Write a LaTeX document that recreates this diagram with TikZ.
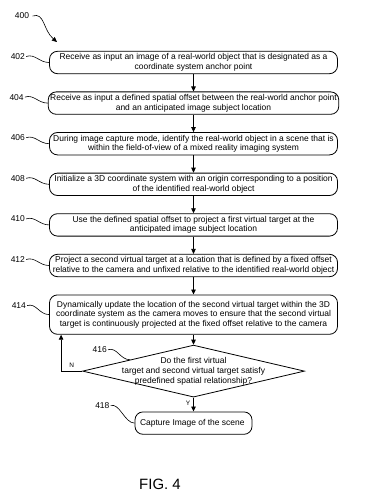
\documentclass[tikz,border=0pt]{standalone}
\usepackage{fontspec}
\setmainfont{Liberation Sans}
\usetikzlibrary{
  arrows.meta,
  calc,
  positioning,
  shapes.geometric
}
\tikzset{
  patent/.style={ font=\fontsize{8.5}{9.8}\selectfont },
  stepbox/.style={
    draw,
    rounded corners=8bp,
    line width=0.8bp,
    minimum width=288bp,
    minimum height=22.4bp,
    align=center,
    inner sep=2bp
  },
  decision/.style={
    draw,
    diamond,
    line width=0.8bp,
    minimum width=222bp,
    minimum height=52bp,
    inner sep=0pt
  },
  arrow/.style={
    -{Triangle[length=5bp,width=4.5bp]},
    line width=0.8bp
  },
  refnum/.style={ anchor=east, inner sep=1bp },
  lead/.style={ line width=0.6bp },
  yesno/.style={ font=\fontsize{6.5}{7}\selectfont, inner sep=1bp }
}

\begin{document}
\begin{tikzpicture}[patent, x=1bp, y=-1bp, node distance=17.4bp]
  \useasboundingbox (0,0) rectangle (387,502);
  \node[stepbox] (b402) at (193.5,62.5) {
    Receive as input an image of a real-world object that is designated as a\\
    coordinate system anchor point
  };
  \node[stepbox, below=of b402] (b404) {
    Receive as input a defined spatial offset between the real-world anchor point\\
    and an anticipated image subject location
  };
  \node[stepbox, below=of b404] (b406) {
    During image capture mode, identify the real-world object in a scene that is\\
    within the field-of-view of a mixed reality imaging system
  };
  \node[stepbox, below=of b406] (b408) {
    Initialize a 3D coordinate system with an origin corresponding to a position\\
    of the identified real-world object
  };
  \node[stepbox, below=of b408] (b410) {
    Use the defined spatial offset to project a first virtual target at the\\
    anticipated image subject location
  };
  \node[stepbox, below=of b410] (b412) {
    Project a second virtual target at a location that is defined by a fixed offset\\
    relative to the camera and unfixed relative to the identified real-world object
  };
  \node[stepbox, below=of b412, minimum height=39.4bp] (b414) {
    Dynamically update the location of the second virtual target within the 3D\\
    coordinate system as the camera moves to ensure that the second virtual\\
    target is continuously projected at the fixed offset relative to the camera
  };
  \node[decision, below=10bp of b414] (q416) {};
  \node[align=center] (t416) at (q416.center) {
    Do the first virtual\\
    target and second virtual target satisfy\\
    predefined spatial relationship?
  };
  \node[stepbox, below=14bp of q416, minimum width=117bp] (b418) {
    Capture Image of the scene
  };
  \node (fig) at (160,484) {\fontsize{15}{18}\selectfont FIG. 4};

  \foreach \a/\b in {b402/b404, b404/b406, b406/b408, b408/b410,
                     b410/b412, b412/b414, b414/q416} {
    \draw[arrow] (\a) -- (\b);
  }
  \draw[arrow] (q416) -- node[yesno, left=2bp, pos=0.4] (yes) {Y} (b418);
  \draw[arrow] (q416.west) -- node[yesno, above=2bp] (no) {N}
    ($(q416.west -| b414.south west)+(12bp,0)$)
    -- ([xshift=12bp]b414.south west);

  \node (l400) at (22,16) {400};
  \coordinate (t400) at (57,42);
  \draw[arrow, line width=0.6bp] (l400.east) .. controls +(12bp,4bp) and +(-14bp,12bp) .. (t400);

  \foreach \n/\dx/\dy in {402/-23/6, 404/-23/6, 406/-23/6, 408/-23/6,
                          410/-23/6, 412/-23/6, 414/-22/9, 418/-24/17.5} {
    \node[refnum] (l\n) at ([xshift=\dx bp, yshift=\dy bp]b\n.west) {\n};
    \draw[lead] (l\n.east) .. controls +(9bp,3bp) and +(-10bp,0bp) .. (b\n.west);
  }
  \coordinate (e416) at ($(q416.west)!0.43!(q416.north)$);
  \node[refnum] (l416) at ([xshift=-22bp, yshift=10bp]e416) {416};
  \draw[lead] (l416.east) .. controls +(9bp,3bp) and +(-10bp,0bp) .. (e416);
\end{tikzpicture}
\end{document}
